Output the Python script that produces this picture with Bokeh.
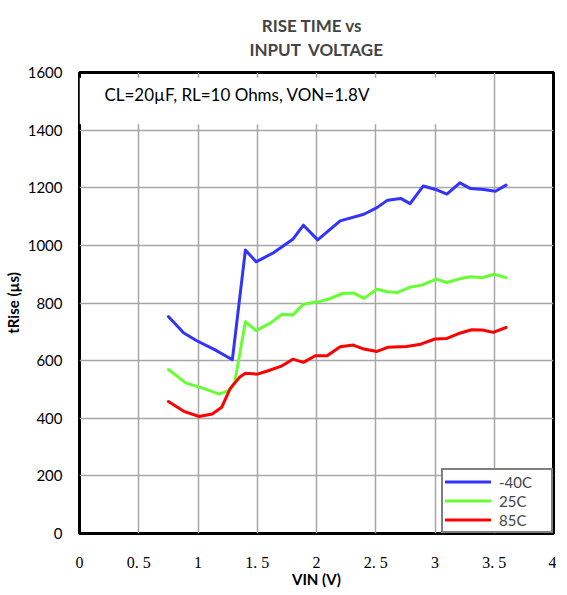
from bokeh.plotting import figure
from bokeh.models import Title, Label, BoxAnnotation, Legend, LegendItem, FixedTicker
from bokeh.embed import file_html
from bokeh.resources import INLINE

# ---- data ----
vin_m40 = [0.75, 0.88, 0.99, 1.14, 1.29, 1.40, 1.49, 1.64, 1.80, 1.89, 2.01, 2.10, 2.20,
           2.40, 2.51, 2.60, 2.71, 2.79, 2.90, 3.02, 3.10, 3.21, 3.30, 3.41, 3.51, 3.60]
t_m40 = [753, 696, 669, 638, 603, 984, 943, 975, 1021, 1070, 1019, 1050, 1085,
         1108, 1131, 1157, 1163, 1145, 1206, 1192, 1178, 1217, 1197, 1194, 1188, 1209]

vin_25 = [0.75, 0.90, 1.02, 1.18, 1.26, 1.31, 1.40, 1.49, 1.61, 1.71, 1.80, 1.89, 2.01,
          2.10, 2.22, 2.31, 2.40, 2.51, 2.60, 2.68, 2.79, 2.89, 3.01, 3.10, 3.20, 3.30,
          3.40, 3.50, 3.60]
t_25 = [569, 522, 507, 484, 496, 525, 735, 704, 730, 761, 758, 796, 804,
        813, 833, 835, 816, 848, 839, 836, 855, 862, 883, 871, 883, 891,
        888, 900, 888]

vin_85 = [0.75, 0.88, 1.01, 1.12, 1.20, 1.27, 1.35, 1.40, 1.50, 1.58, 1.71, 1.80, 1.89,
          1.99, 2.09, 2.20, 2.31, 2.40, 2.51, 2.60, 2.76, 2.88, 3.00, 3.10, 3.20, 3.31,
          3.40, 3.49, 3.60]
t_85 = [458, 424, 406, 415, 438, 502, 542, 556, 553, 563, 582, 605, 594,
        617, 617, 648, 654, 640, 632, 646, 649, 657, 675, 677, 694, 707,
        706, 698, 715]

series_names = ["-40C", "25C", "85C"]
series_colors = ["#3333ff", "#66ff33", "#ff0000"]

x_ticks = [0, 0.5, 1, 1.5, 2, 2.5, 3, 3.5, 4]
x_tick_labels = ["0", "0. 5", "1", "1. 5", "2", "2. 5", "3", "3. 5", "4"]
y_ticks = [0, 200, 400, 600, 800, 1000, 1200, 1400, 1600]

# lines of a multi-line title are left-aligned, so the first is padded to sit centred
title_text = "\u00a0\u00a0\u00a0RISE TIME vs\nINPUT\u00a0 VOLTAGE"
note_text = "CL=20\u00b5F, RL=10 Ohms, VON=1.8V"

SANS = "Lato"
SERIF = "Liberation Serif"

p = figure(frame_width=474, frame_height=461, x_range=(0, 4), y_range=(0, 1600),
           output_backend="svg", toolbar_location=None, title=None,
           min_border_left=74, min_border_right=3, min_border_top=10, min_border_bottom=5)
p.background_fill_color = "white"
p.border_fill_color = "white"
p.outline_line_color = "black"
p.outline_line_width = 3

p.add_layout(Title(text=title_text, align="center", text_font=SANS,
                   text_font_size="17px", text_font_style="bold",
                   text_line_height=1.18, standoff=24), "above")

# axes
p.xaxis.ticker = FixedTicker(ticks=x_ticks)
p.xaxis.major_label_overrides = {t: l for t, l in zip(x_ticks, x_tick_labels)}
p.yaxis.ticker = FixedTicker(ticks=y_ticks)
for ax in (p.xaxis, p.yaxis):
    ax.axis_line_color = None
    ax.major_tick_line_color = None
    ax.minor_tick_line_color = None
    ax.major_tick_out = 0
    ax.major_tick_in = 0
    ax.axis_label_text_font = SANS
    ax.axis_label_text_font_style = "bold"
    ax.axis_label_text_font_size = "15px"
    ax.axis_label_text_color = "black"
    ax.major_label_text_color = "black"
p.xaxis.axis_label = "VIN (V)"
p.yaxis.axis_label = "tRise (\u00b5s)"
p.xaxis.major_label_text_font = SERIF
p.xaxis.major_label_text_font_size = "16px"
p.xaxis.major_label_standoff = 20
p.xaxis.axis_label_standoff = -4
p.yaxis.major_label_text_font = SANS
p.yaxis.major_label_text_font_size = "15px"
p.yaxis.major_label_standoff = 17
p.yaxis.axis_label_standoff = 3

# grid
for g in (p.xgrid, p.ygrid):
    g.grid_line_color = "#a6a6a6"
    g.grid_line_width = 1.5

# note box with text
p.add_layout(BoxAnnotation(left=0, right=3.48, bottom=1420, top=1582,
                           fill_color="white", fill_alpha=1.0, line_color=None))
p.add_layout(Label(x=0.21, y=1524, text=note_text, text_font=SANS,
                   text_font_size="17px", text_baseline="middle", text_color="black"))

# series
xs = [vin_m40, vin_25, vin_85]
ys = [t_m40, t_25, t_85]
items = []
for x, y, name, c in zip(xs, ys, series_names, series_colors):
    r = p.line(x, y, line_color=c, line_width=3, line_join="round", line_cap="round")
    items.append(LegendItem(label=name, renderers=[r]))

legend = Legend(items=items, location="bottom_right", margin=0, padding=2,
                spacing=0, glyph_width=46, glyph_height=19, label_height=19,
                label_width=50, label_standoff=8,
                label_text_font=SANS, label_text_font_size="15px",
                border_line_color="black", border_line_width=2,
                background_fill_color="white", background_fill_alpha=1.0)
p.add_layout(legend, "center")

open("out.html", "w").write(file_html(p, INLINE))
